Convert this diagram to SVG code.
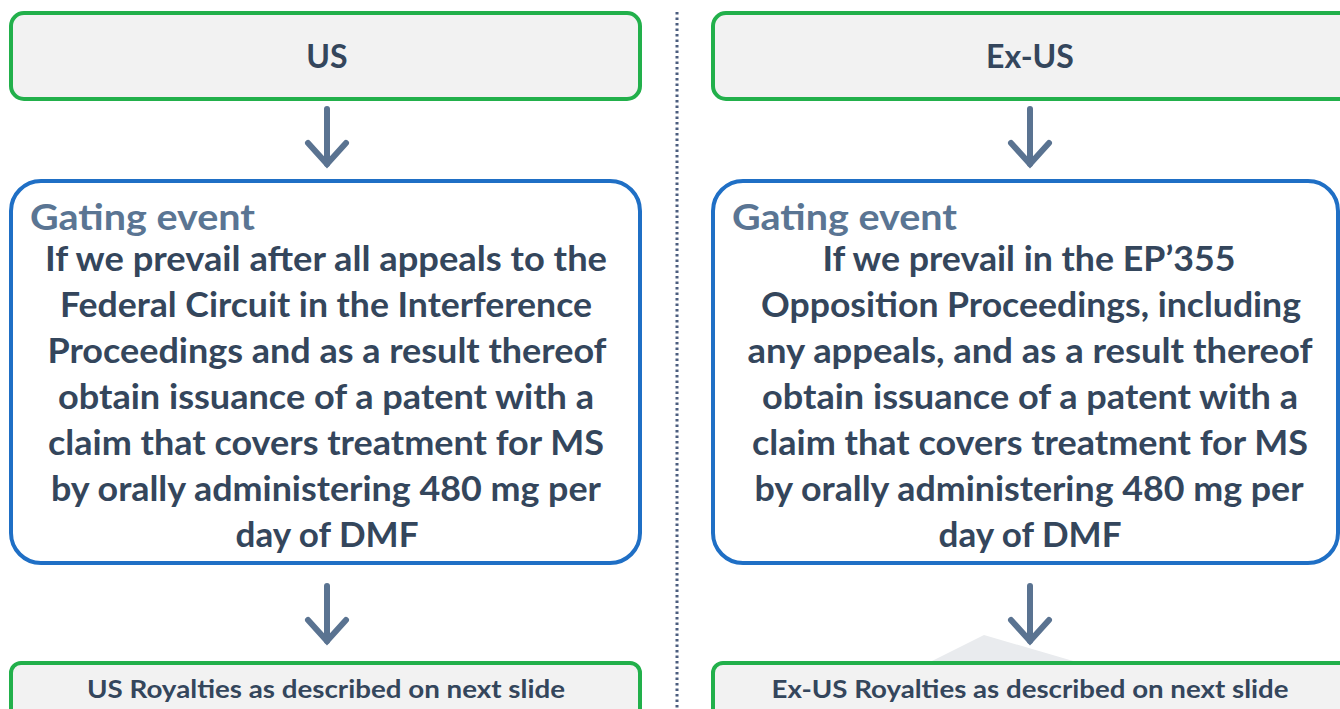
<svg xmlns="http://www.w3.org/2000/svg" width="1340" height="709" viewBox="0 0 1340 709">
<defs>
<style>
.hdr{fill:#f2f2f2;stroke:#22b04b;stroke-width:4}
.gate{fill:#ffffff;stroke:#1f6fc5;stroke-width:4}
.t{font-family:Lato,"Open Sans","Liberation Sans",sans-serif;font-weight:bold;fill:#34465c}
.h{font-size:32px;text-anchor:middle}
.g{font-size:36px;fill:#5a7593}
.b{font-size:34px;text-anchor:middle}
.r{font-size:25px;text-anchor:middle}
.arr{stroke:#5a7391;stroke-width:6;fill:none;stroke-linecap:round}
</style>
<marker id="head" markerUnits="userSpaceOnUse" markerWidth="60" markerHeight="60" refX="0" refY="0" viewBox="-30 -30 60 60" orient="auto" overflow="visible">
<path d="M-21,-19 L0,0 L-21,19" fill="none" stroke="#5a7391" stroke-width="6" stroke-linecap="round" stroke-linejoin="miter"/>
</marker>
</defs>
<rect width="1340" height="709" fill="#ffffff"/>
<line x1="677" y1="12" x2="677" y2="709" stroke="#4b5d7e" stroke-width="3" stroke-dasharray="2.5 3"/>
<polygon points="928,663 984,635 1080,663" fill="#e9ebee"/>

<g id="connectors">
<line class="arr" x1="327" y1="109" x2="327" y2="164" marker-end="url(#head)"/>
<line class="arr" x1="1030" y1="109" x2="1030" y2="164" marker-end="url(#head)"/>
<line class="arr" x1="327" y1="586" x2="327" y2="641" marker-end="url(#head)"/>
<line class="arr" x1="1030" y1="586" x2="1030" y2="641" marker-end="url(#head)"/>
</g>

<g id="us">
<rect class="hdr" x="11" y="13" width="629" height="86" rx="13"/>
<text class="t h" x="327" y="68">US</text>
</g>

<g id="exus">
<rect class="hdr" x="713" y="13" width="640" height="86" rx="13"/>
<text class="t h" x="1030" y="68">Ex-US</text>
</g>

<g id="us-gate">
<rect class="gate" x="11" y="181" width="629" height="382" rx="30"/>
<text class="t g" x="30" y="230" textLength="225" lengthAdjust="spacingAndGlyphs">Gating event</text>
<text class="t b" x="326" y="271" textLength="562" lengthAdjust="spacingAndGlyphs">If we prevail after all appeals to the</text>
<text class="t b" x="326" y="317" textLength="532" lengthAdjust="spacingAndGlyphs">Federal Circuit in the Interference</text>
<text class="t b" x="327" y="363" textLength="559" lengthAdjust="spacingAndGlyphs">Proceedings and as a result thereof</text>
<text class="t b" x="326" y="409" textLength="536" lengthAdjust="spacingAndGlyphs">obtain issuance of a patent with a</text>
<text class="t b" x="326" y="455" textLength="556" lengthAdjust="spacingAndGlyphs">claim that covers treatment for MS</text>
<text class="t b" x="326" y="501" textLength="550" lengthAdjust="spacingAndGlyphs">by orally administering 480 mg per</text>
<text class="t b" x="327" y="547" textLength="183" lengthAdjust="spacingAndGlyphs">day of DMF</text>
</g>

<g id="exus-gate">
<rect class="gate" x="713" y="181" width="625" height="382" rx="30"/>
<text class="t g" x="732" y="230" textLength="225" lengthAdjust="spacingAndGlyphs">Gating event</text>
<text class="t b" x="1029" y="271" textLength="413" lengthAdjust="spacingAndGlyphs">If we prevail in the EP’355</text>
<text class="t b" x="1031" y="317" textLength="540" lengthAdjust="spacingAndGlyphs">Opposition Proceedings, including</text>
<text class="t b" x="1030" y="363" textLength="565" lengthAdjust="spacingAndGlyphs">any appeals, and as a result thereof</text>
<text class="t b" x="1030" y="409" textLength="536" lengthAdjust="spacingAndGlyphs">obtain issuance of a patent with a</text>
<text class="t b" x="1030" y="455" textLength="556" lengthAdjust="spacingAndGlyphs">claim that covers treatment for MS</text>
<text class="t b" x="1029" y="501" textLength="549" lengthAdjust="spacingAndGlyphs">by orally administering 480 mg per</text>
<text class="t b" x="1030" y="547" textLength="183" lengthAdjust="spacingAndGlyphs">day of DMF</text>
</g>

<g id="us-roy">
<rect class="hdr" x="11" y="663" width="629" height="70" rx="10"/>
<text class="t r" x="326" y="698" textLength="478" lengthAdjust="spacingAndGlyphs">US Royalties as described on next slide</text>
</g>

<g id="exus-roy">
<rect class="hdr" x="713" y="663" width="640" height="70" rx="10"/>
<text class="t r" x="1030" y="698" textLength="517" lengthAdjust="spacingAndGlyphs">Ex-US Royalties as described on next slide</text>
</g>
</svg>
